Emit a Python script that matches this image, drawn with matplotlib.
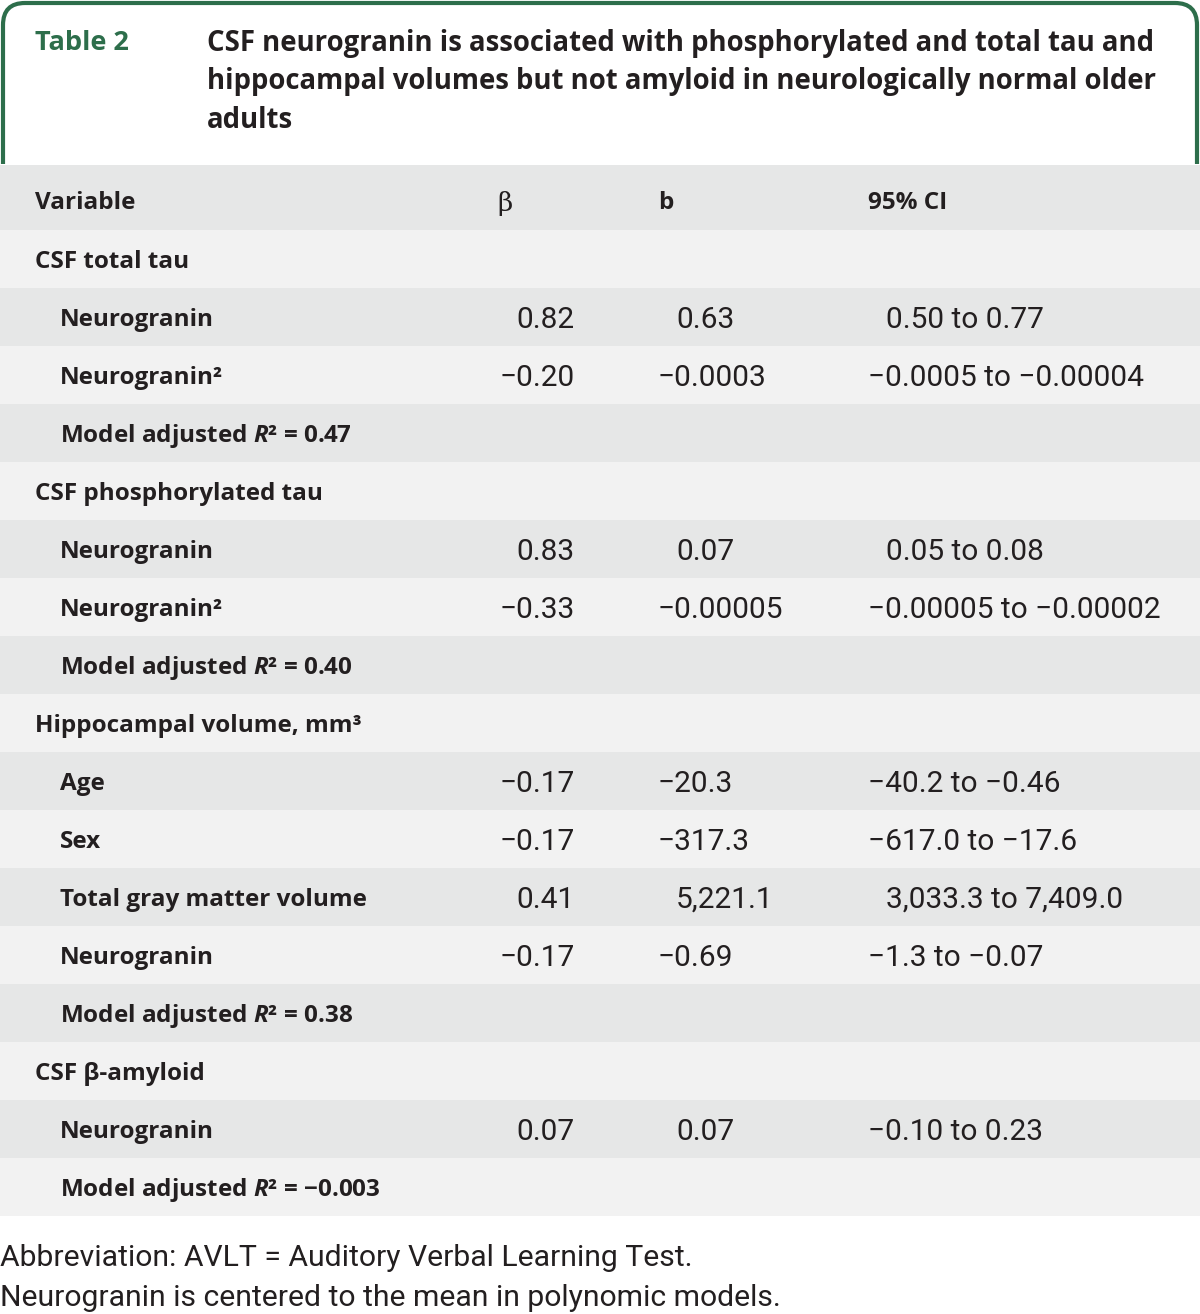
import matplotlib.pyplot as plt
from matplotlib.patches import Rectangle, FancyBboxPatch

plt.rcParams['mathtext.fontset'] = 'custom'
plt.rcParams['mathtext.it'] = 'Open Sans:italic:bold'
plt.rcParams['mathtext.rm'] = 'Open Sans:bold'

table_label = "Table 2"
title_lines = ["CSF neurogranin is associated with phosphorylated and total tau and",
               "hippocampal volumes but not amyloid in neurologically normal older",
               "adults"]
headers = ["Variable", "β", "b", "95% CI"]

labels = ["CSF total tau", "Neurogranin", "Neurogranin²", "Model adjusted $\\mathit{R}$² = 0.47",
          "CSF phosphorylated tau", "Neurogranin", "Neurogranin²", "Model adjusted $\\mathit{R}$² = 0.40",
          "Hippocampal volume, mm³", "Age", "Sex", "Total gray matter volume", "Neurogranin",
          "Model adjusted $\\mathit{R}$² = 0.38",
          "CSF β-amyloid", "Neurogranin", "Model adjusted $\\mathit{R}$² = −0.003"]
levels = [0, 1, 1, 1, 0, 1, 1, 1, 0, 1, 1, 1, 1, 1, 0, 1, 1]
beta = ["", "0.82", "−0.20", "", "", "0.83", "−0.33", "", "", "−0.17", "−0.17", "0.41", "−0.17", "",
        "", "0.07", ""]
b_vals = ["", "0.63", "−0.0003", "", "", "0.07", "−0.00005", "", "", "−20.3", "−317.3", "5,221.1",
          "−0.69", "", "", "0.07", ""]
ci = ["", "0.50 to 0.77", "−0.0005 to −0.00004", "", "", "0.05 to 0.08", "−0.00005 to −0.00002", "",
      "", "−40.2 to −0.46", "−617.0 to −17.6", "3,033.3 to 7,409.0", "−1.3 to −0.07", "", "",
      "−0.10 to 0.23", ""]
footnotes = ["Abbreviation: AVLT = Auditory Verbal Learning Test.",
             "Neurogranin is centered to the mean in polynomic models."]

green = "#2d6e4b"
dark_row = "#e6e7e7"
light_row = "#f2f2f2"
txt = "#231f20"
bold_font = "Open Sans"
num_font = "Roboto"

fig = plt.figure(figsize=(12, 13.14), dpi=100)
ax = fig.add_axes([0, 0, 1, 1])
ax.set_xlim(0, 1200)
ax.set_ylim(1314, 0)
ax.axis("off")

# title frame
frame = FancyBboxPatch((3, 3), 1194, 300, boxstyle="round,pad=0,rounding_size=22",
                       fill=False, edgecolor=green, linewidth=3)
ax.add_patch(frame)
ax.add_patch(Rectangle((0, 164), 1200, 200, facecolor="white", edgecolor="none", zorder=1))
ax.text(35, 43, table_label, color=green, fontsize=19.5, fontweight="bold", family=bold_font,
        va="center", zorder=3)
for k, line in enumerate(title_lines):
    ax.text(207, 43 + 39 * k, line, color=txt, fontsize=19.8, fontweight="bold", family=bold_font,
            va="center", zorder=3)

# header row
top = 165
ax.add_patch(Rectangle((0, top), 1200, 65, facecolor=dark_row, edgecolor="none", zorder=2))
hy = top + 38
ax.text(35, hy, headers[0], fontsize=17.5, fontweight="bold", family=bold_font, color=txt, va="center", zorder=3)
ax.text(505, hy, headers[1], fontsize=19, family="DejaVu Serif", color=txt, va="center", ha="center", zorder=3)
ax.text(658, hy, headers[2], fontsize=17.5, fontweight="bold", family=bold_font, color=txt, va="center", zorder=3)
ax.text(868, hy, headers[3], fontsize=17.5, fontweight="bold", family=bold_font, color=txt, va="center", zorder=3)

row_h = 58
y0 = top + 65
for i, lab in enumerate(labels):
    y = y0 + i * row_h
    ax.add_patch(Rectangle((0, y), 1200, row_h, facecolor=light_row if i % 2 == 0 else dark_row,
                           edgecolor="none", zorder=2))
    cy = y + row_h / 2 + 2.5
    ax.text(35 + 25 * levels[i], cy, lab, fontsize=17.5, fontweight="bold", family=bold_font,
            color=txt, va="center", zorder=3)
    ax.text(575, cy, beta[i], fontsize=21.5, family=num_font, color=txt, va="center", ha="right", zorder=3)
    ax.text(658 if b_vals[i].startswith("−") else 676, cy, b_vals[i], fontsize=21.5, family=num_font,
            color=txt, va="center", zorder=3)
    ax.text(868 if ci[i].startswith("−") else 886, cy, ci[i], fontsize=21.5, family=num_font,
            color=txt, va="center", zorder=3)

for j, note in enumerate(footnotes):
    ax.text(0, 1258 + 40 * j, note, fontsize=21.7, family=num_font, color=txt, va="center", zorder=3)

fig.savefig("out.png", dpi=100, facecolor="white")
